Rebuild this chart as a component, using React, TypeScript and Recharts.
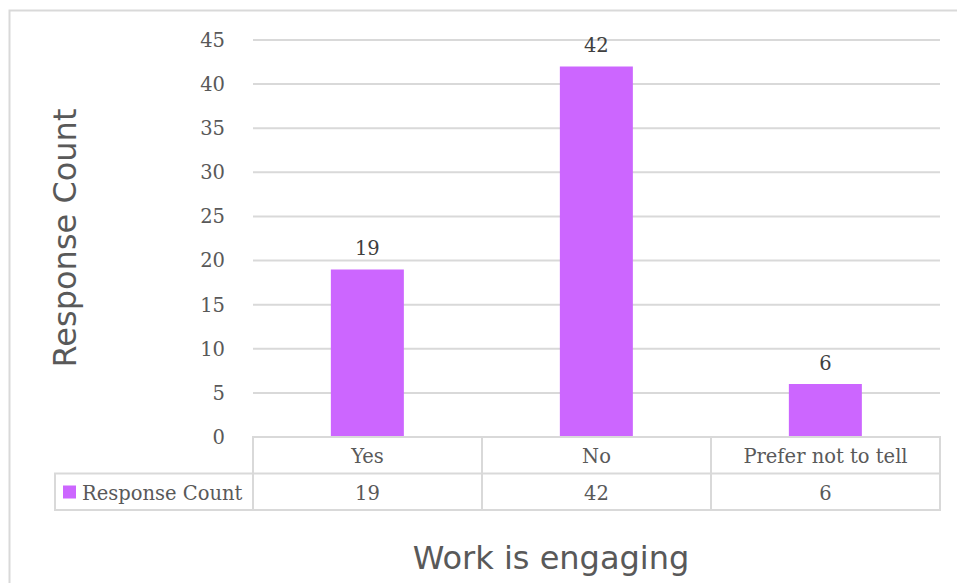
import { BarChart, Bar, XAxis, YAxis, CartesianGrid, LabelList } from "recharts";

const categories = ["Yes", "No", "Prefer not to tell"];
const responseCounts = [19, 42, 6];
const yTicks = [0, 5, 10, 15, 20, 25, 30, 35, 40, 45];
const seriesName = "Response Count";
const yAxisTitle = "Response Count";
const chartTitle = "Work is engaging";

const data = categories.map((name, i) => ({ name, count: responseCounts[i] }));

const W = 957;
const H = 583;
const PLOT_LEFT = 253;
const PLOT_RIGHT = 940;
const PLOT_TOP = 40;
const PLOT_BOTTOM = 437;
const ROW_H = 36.5;
const BAND = (PLOT_RIGHT - PLOT_LEFT) / categories.length;
const BAR_COLOR = "#CC66FF";
const GRID = "#D9D9D9";
const SERIF = "DejaVu Serif, serif";
const SANS = "DejaVu Sans, Verdana, sans-serif";
const FS = 19.5;

// draws one column of the data table under the category
function TableTick(props: any) {
  const { x, y, payload, index } = props;
  const left = x - BAND / 2;
  const v = responseCounts[index];
  return (
    <g>
      <rect x={left} y={y} width={BAND} height={ROW_H * 2} fill="none" stroke={GRID} strokeWidth={2} />
      <line x1={left} x2={left + BAND} y1={y + ROW_H} y2={y + ROW_H} stroke={GRID} strokeWidth={2} />
      <text x={x} y={y + 26} textAnchor="middle" fontFamily={SERIF} fontSize={FS} fill="#595959">
        {payload.value}
      </text>
      <text x={x} y={y + ROW_H + 26} textAnchor="middle" fontFamily={SERIF} fontSize={FS} fill="#595959">
        {v}
      </text>
      {index === 0 && (
        <g>
          <rect x={55} y={y + ROW_H} width={left - 55} height={ROW_H} fill="none" stroke={GRID} strokeWidth={2} />
          <rect x={63} y={y + ROW_H + 12} width={13} height={13} fill={BAR_COLOR} />
          <text x={82} y={y + ROW_H + 26} fontFamily={SERIF} fontSize={FS} fill="#595959">
            {seriesName}
          </text>
        </g>
      )}
    </g>
  );
}

export default function App() {
  return (
    <div style={{ position: "fixed", left: 0, top: 0, width: W, height: H, background: "#fff" }}>
      <svg width={W} height={H} style={{ position: "absolute", left: 0, top: 0 }}>
        <rect x={9.5} y={10.5} width={W + 20} height={H + 20} fill="none" stroke={GRID} strokeWidth={2} />
        <text
          x={76}
          y={238}
          transform="rotate(-90 76 238)"
          textAnchor="middle"
          fontFamily={SANS}
          fontSize={32}
          fill="#595959"
        >
          {yAxisTitle}
        </text>
        <text x={551} y={569} textAnchor="middle" fontFamily={SANS} fontSize={32} fill="#595959">
          {chartTitle}
        </text>
      </svg>
      <div style={{ position: "absolute", left: 0, top: 0 }}>
        <BarChart
          width={W}
          height={H}
          data={data}
          margin={{ top: PLOT_TOP, right: W - PLOT_RIGHT, left: PLOT_LEFT - 60, bottom: 0 }}
          barCategoryGap="34%"
        >
          <CartesianGrid horizontal vertical={false} stroke={GRID} strokeWidth={2} />
          <XAxis
            dataKey="name"
            height={H - PLOT_BOTTOM}
            tickLine={false}
            axisLine={false}
            tickSize={0}
            tickMargin={0}
            interval={0}
            tick={<TableTick />}
          />
          <YAxis
            width={60}
            domain={[0, 45]}
            ticks={yTicks}
            tickLine={false}
            axisLine={false}
            tickMargin={22}
            tick={{ fontFamily: SERIF, fontSize: FS, fill: "#595959" }}
          />
          <Bar dataKey="count" fill={BAR_COLOR} isAnimationActive={false}>
            <LabelList
              dataKey="count"
              position="top"
              offset={14}
              style={{ fontFamily: SERIF, fontSize: FS, fill: "#404040" }}
            />
          </Bar>
        </BarChart>
      </div>
    </div>
  );
}
